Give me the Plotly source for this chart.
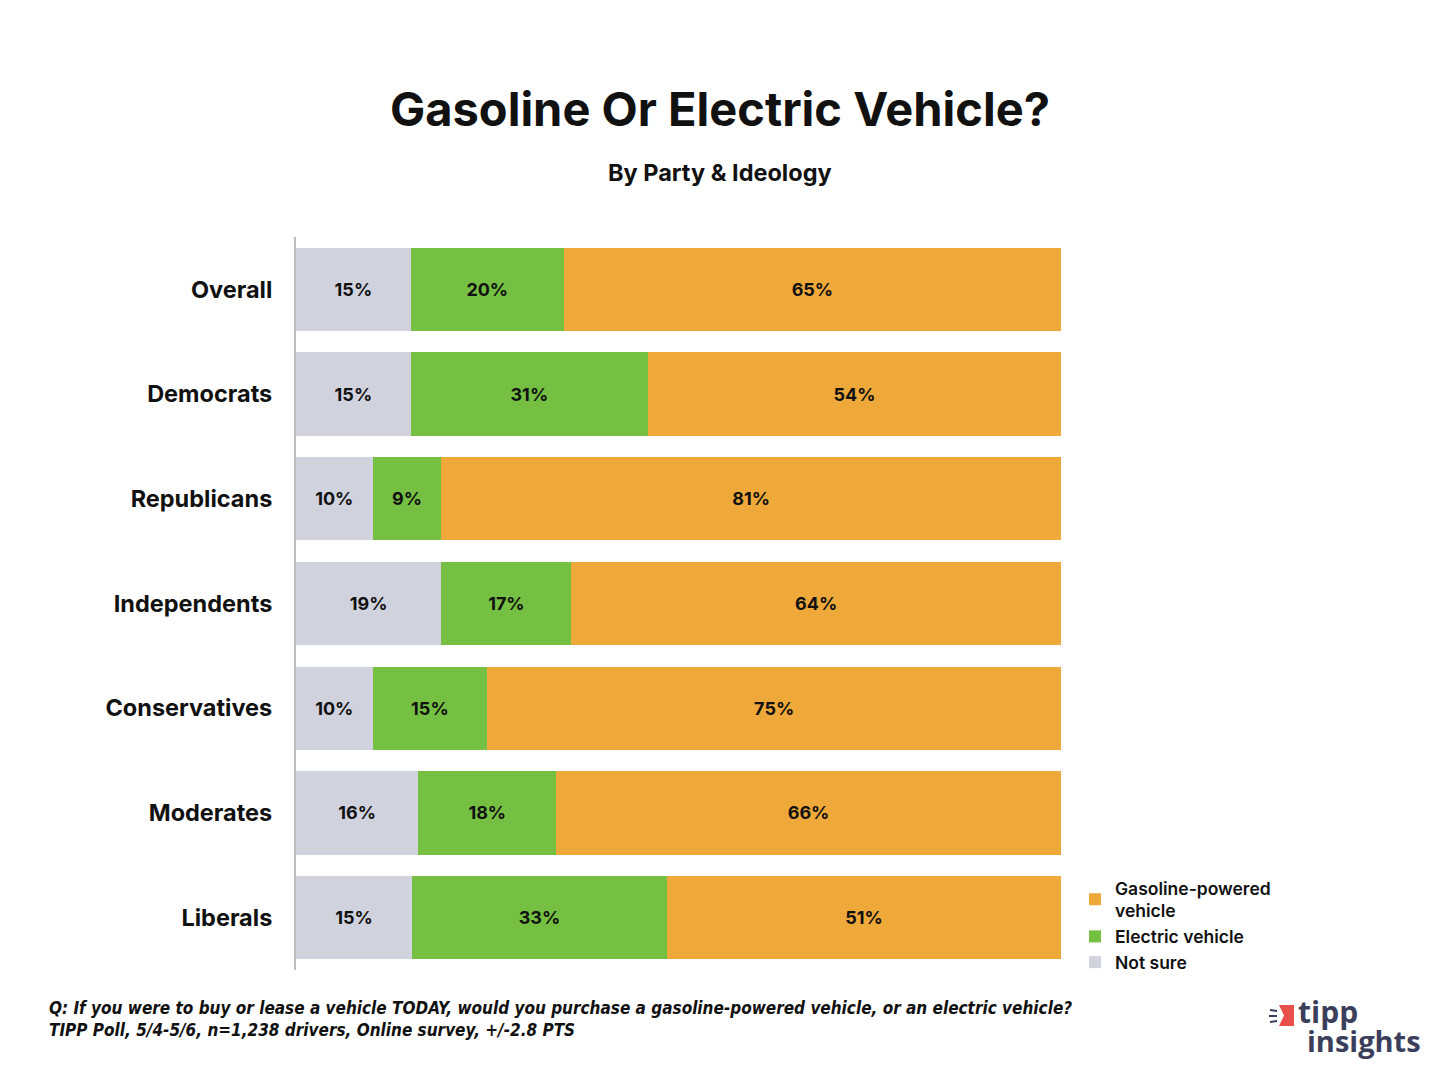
import plotly.graph_objects as go

categories = ["Overall", "Democrats", "Republicans", "Independents", "Conservatives", "Moderates", "Liberals"]
not_sure = [15, 15, 10, 19, 10, 16, 15]
electric = [20, 31, 9, 17, 15, 18, 33]
gasoline = [65, 54, 81, 64, 75, 66, 51]

series = [
    ("Not sure", not_sure, "#D0D2DE"),
    ("Electric vehicle", electric, "#75BF43"),
    ("Gasoline-powered<br>vehicle", gasoline, "#EFA83A"),
]

FONT = "Inter"
OFF = 8  # page body margin
W, H = 1440 - OFF, 1080 - OFF
L, R, T, B = 296, 1061, 237, 970  # plot area in reference pixels


def px(x):
    return (x - L) / (R - L)


def py(y):
    return (B - y) / (B - T)


def cx(x):
    return (x - OFF) / W


def cy(y):
    return 1 - (y - OFF) / H


fig = go.Figure()
for name, vals, color in series:
    fig.add_trace(go.Bar(
        y=categories, x=vals, name=name, orientation="h",
        marker=dict(color=color, line=dict(width=0)),
        text=[f"{v}%" for v in vals], textposition="inside",
        insidetextanchor="middle", textangle=0,
        textfont=dict(family=FONT, size=18, color="#111111", weight="bold"),
        hoverinfo="skip",
    ))

fig.update_layout(
    width=W, height=H,
    barmode="stack", barnorm="percent", bargap=0.205,
    paper_bgcolor="white", plot_bgcolor="white",
    margin=dict(l=L - OFF, r=W - (R - OFF), t=T - OFF, b=H - (B - OFF)),
    font=dict(family=FONT, color="#111111"),
    title=dict(text="<b>Gasoline Or Electric Vehicle?</b>", x=cx(720), xanchor="center",
               y=cy(110), yanchor="middle", yref="container", xref="container",
               font=dict(size=47, family=FONT, color="#111111")),
    xaxis=dict(range=[0, 100], showticklabels=False, showgrid=False, zeroline=False,
               showline=False, fixedrange=True),
    yaxis=dict(autorange="reversed", showgrid=False, zeroline=False, showline=True,
               linecolor="#BDBDC4", linewidth=2, ticks="", ticklabelstandoff=17,
               tickfont=dict(size=23.5, family=FONT, color="#111111", weight="bold")),
    legend=dict(traceorder="reversed", xref="container", yref="container",
                x=cx(1075), y=cy(870), xanchor="left", yanchor="top",
                font=dict(size=17.5, family=FONT, color="#111111", weight=600),
                itemwidth=30, tracegroupgap=0, bgcolor="rgba(0,0,0,0)"),
    showlegend=True,
)

fig.add_annotation(text="<b>By Party & Ideology</b>", xref="paper", yref="paper",
                   x=px(720), y=py(172), xanchor="center", yanchor="middle",
                   showarrow=False, font=dict(size=23.5, family=FONT, color="#111111"))

fig.add_annotation(
    text="<b><i>Q: If you were to buy or lease a vehicle TODAY, would you purchase a gasoline-powered vehicle, or an electric vehicle?<br>TIPP Poll, 5/4-5/6, n=1,238 drivers, Online survey, +/-2.8 PTS</i></b>",
    xref="paper", yref="paper", x=px(47), y=py(1019),
    xanchor="left", yanchor="middle", align="left", showarrow=False,
    font=dict(size=17, family="DejaVu Sans Condensed, Roboto", color="#111111"))

# logo
fig.add_shape(type="path", xref="paper", yref="paper",
              path=f"M {px(1279)} {py(1005)} L {px(1294)} {py(1005)} L {px(1294)} {py(1026)} L {px(1279)} {py(1026)} L {px(1284)} {py(1015.5)} Z",
              fillcolor="#E8504A", line=dict(width=0))
for (xa, ya, xb, yb) in [(1270, 1010, 1277, 1011), (1269, 1016, 1277, 1016), (1270, 1022, 1277, 1021)]:
    fig.add_shape(type="line", xref="paper", yref="paper",
                  x0=px(xa), y0=py(ya), x1=px(xb), y1=py(yb),
                  line=dict(color="#3B3F5C", width=2))
fig.add_annotation(text="<b>tipp</b>", xref="paper", yref="paper",
                   x=px(1296), y=py(1011), xanchor="left", yanchor="middle",
                   showarrow=False, font=dict(size=30, family="Open Sans", color="#3B3F5C"))
fig.add_annotation(text="<b>insights</b>", xref="paper", yref="paper",
                   x=px(1423), y=py(1040), xanchor="right", yanchor="middle",
                   showarrow=False, font=dict(size=29, family="Open Sans", color="#3B3F5C"))

fig.write_html("out.html")
